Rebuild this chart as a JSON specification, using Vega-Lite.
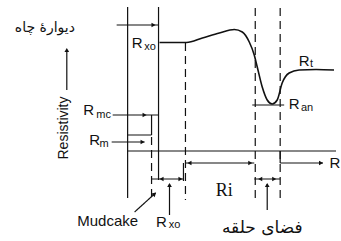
{
  "$schema": "https://vega.github.io/schema/vega-lite/v6.json",
  "width": 341,
  "height": 241,
  "autosize": {"type": "fit", "contains": "padding"},
  "padding": 0,
  "background": "white",
  "config": {"view": {"stroke": null}},
  "datasets": {
    "segs": [
      {"x": 128, "y": 7, "x2": 128, "y2": 198, "kind": "solid"},
      {"x": 159, "y": 7, "x2": 159, "y2": 180, "kind": "solid"},
      {"x": 117, "y": 25, "x2": 159, "y2": 25, "kind": "solid"},
      {"x": 113, "y": 115, "x2": 159, "y2": 115, "kind": "solid"},
      {"x": 152, "y": 115, "x2": 152, "y2": 135, "kind": "solid"},
      {"x": 128, "y": 135, "x2": 152, "y2": 135, "kind": "solid"},
      {"x": 112, "y": 142, "x2": 145, "y2": 142, "kind": "solid"},
      {"x": 128, "y": 151, "x2": 337, "y2": 151, "kind": "solid"},
      {"x": 281, "y": 151, "x2": 281, "y2": 163, "kind": "solid"},
      {"x": 281, "y": 163, "x2": 324, "y2": 163, "kind": "solid"},
      {"x": 186, "y": 163, "x2": 255, "y2": 163, "kind": "solid"},
      {"x": 152, "y": 179, "x2": 184, "y2": 179, "kind": "solid"},
      {"x": 184, "y": 163, "x2": 184, "y2": 181, "kind": "solid"},
      {"x": 255, "y": 179, "x2": 281, "y2": 179, "kind": "solid"},
      {"x": 253, "y": 105, "x2": 285, "y2": 105, "kind": "solid"},
      {"x": 67, "y": 50, "x2": 67, "y2": 90, "kind": "solid"},
      {"x": 268, "y": 184, "x2": 268, "y2": 210, "kind": "solid"},
      {"x": 170, "y": 184, "x2": 170, "y2": 215, "kind": "solid"},
      {"x": 135, "y": 212, "x2": 156, "y2": 193, "kind": "solid"},
      {"x": 152, "y": 137, "x2": 152, "y2": 200, "kind": "dashed"},
      {"x": 186, "y": 43, "x2": 186, "y2": 200, "kind": "dashed"},
      {"x": 256, "y": 8, "x2": 256, "y2": 200, "kind": "dashed"},
      {"x": 281, "y": 8, "x2": 281, "y2": 200, "kind": "dashed"}
    ],
    "curve": [
      {"x": 160, "y": 42.5},
      {"x": 175, "y": 42.5},
      {"x": 187, "y": 42.5},
      {"x": 203, "y": 38},
      {"x": 220, "y": 33},
      {"x": 235, "y": 29.5},
      {"x": 243, "y": 32},
      {"x": 250, "y": 42},
      {"x": 255, "y": 55},
      {"x": 258, "y": 67},
      {"x": 263, "y": 87},
      {"x": 268, "y": 100},
      {"x": 273, "y": 104},
      {"x": 278, "y": 100},
      {"x": 283, "y": 83},
      {"x": 290, "y": 73},
      {"x": 300, "y": 70},
      {"x": 317, "y": 69.5},
      {"x": 335, "y": 70}
    ],
    "heads": [
      {"x": 154, "y": 25, "dir": "r"},
      {"x": 145, "y": 115, "dir": "r"},
      {"x": 143, "y": 142, "dir": "r"},
      {"x": 162, "y": 179, "dir": "l"},
      {"x": 181, "y": 179, "dir": "r"},
      {"x": 190, "y": 163, "dir": "l"},
      {"x": 251, "y": 163, "dir": "r"},
      {"x": 322, "y": 163, "dir": "r"},
      {"x": 261, "y": 179, "dir": "l"},
      {"x": 275, "y": 179, "dir": "r"},
      {"x": 67, "y": 50, "dir": "u"},
      {"x": 268, "y": 185, "dir": "u"},
      {"x": 170, "y": 185, "dir": "u"}
    ],
    "diag": [{"x": 155, "y": 194}],
    "bigR": [
      {"x": 137.5, "y": 43, "t": "R"},
      {"x": 89, "y": 110, "t": "R"},
      {"x": 95, "y": 140, "t": "R"},
      {"x": 162, "y": 222, "t": "R"},
      {"x": 305, "y": 61, "t": "R"},
      {"x": 295, "y": 104, "t": "R"},
      {"x": 336, "y": 163, "t": "R"}
    ],
    "subs": [
      {"x": 150.5, "y": 46.5, "t": "xo"},
      {"x": 104, "y": 115, "t": "mc"},
      {"x": 104.5, "y": 144, "t": "m"},
      {"x": 175, "y": 225, "t": "xo"},
      {"x": 312.5, "y": 64, "t": "t"},
      {"x": 308, "y": 107.5, "t": "an"}
    ],
    "arabic1": [{"x": 45, "y": 28, "t": "دیوارهٔ چاه"}],
    "arabic2": [{"x": 263, "y": 228, "t": "فضای حلقه"}],
    "mud": [{"x": 108, "y": 221, "t": "Mudcake"}],
    "ri": [{"x": 225, "y": 191, "t": "Ri"}],
    "res": [{"x": 64, "y": 128, "t": "Resistivity"}]
  },
  "encoding": {
    "x": {"field": "x", "type": "quantitative", "scale": {"domain": [0, 341], "nice": false, "zero": false}, "axis": null},
    "y": {"field": "y", "type": "quantitative", "scale": {"domain": [241, 0], "nice": false, "zero": false}, "axis": null}
  },
  "layer": [
    {
      "data": {"name": "segs"},
      "mark": {"type": "rule", "color": "#111", "strokeWidth": 1.2},
      "encoding": {
        "x2": {"field": "x2"},
        "y2": {"field": "y2"},
        "strokeDash": {"field": "kind", "type": "nominal", "scale": {"domain": ["solid", "dashed"], "range": [[1, 0], [8, 5]]}, "legend": null}
      }
    },
    {
      "data": {"name": "curve"},
      "mark": {"type": "line", "color": "#111", "strokeWidth": 1.6, "interpolate": "monotone"},
      "encoding": {"order": {"field": "x", "type": "quantitative"}}
    },
    {
      "data": {"name": "heads"},
      "mark": {"type": "point", "filled": true, "color": "#111", "size": 22, "opacity": 1},
      "encoding": {
        "shape": {"field": "dir", "type": "nominal", "scale": {"domain": ["r", "l", "u"], "range": ["triangle-right", "triangle-left", "triangle-up"]}, "legend": null}
      }
    },
    {
      "data": {"name": "diag"},
      "mark": {"type": "point", "filled": true, "color": "#111", "size": 24, "opacity": 1, "shape": "triangle-up", "angle": 48},
      "encoding": {}
    },
    {
      "data": {"name": "bigR"},
      "mark": {"type": "text", "font": "Liberation Sans", "fontSize": 15, "color": "#111", "align": "center", "baseline": "middle"},
      "encoding": {"text": {"field": "t"}}
    },
    {
      "data": {"name": "subs"},
      "mark": {"type": "text", "font": "Liberation Sans", "fontSize": 11, "color": "#111", "align": "center", "baseline": "middle"},
      "encoding": {"text": {"field": "t"}}
    },
    {
      "data": {"name": "arabic1"},
      "mark": {"type": "text", "font": "DejaVu Sans", "fontSize": 14, "color": "#111", "align": "center", "baseline": "middle"},
      "encoding": {"text": {"field": "t"}}
    },
    {
      "data": {"name": "arabic2"},
      "mark": {"type": "text", "font": "DejaVu Sans", "fontSize": 17, "color": "#111", "align": "center", "baseline": "middle"},
      "encoding": {"text": {"field": "t"}}
    },
    {
      "data": {"name": "mud"},
      "mark": {"type": "text", "font": "Liberation Sans", "fontSize": 15, "color": "#111", "align": "center", "baseline": "middle"},
      "encoding": {"text": {"field": "t"}}
    },
    {
      "data": {"name": "ri"},
      "mark": {"type": "text", "font": "Liberation Serif", "fontSize": 18, "color": "#111", "align": "center", "baseline": "middle"},
      "encoding": {"text": {"field": "t"}}
    },
    {
      "data": {"name": "res"},
      "mark": {"type": "text", "font": "Liberation Sans", "fontSize": 14, "color": "#111", "align": "center", "baseline": "middle", "angle": 270},
      "encoding": {"text": {"field": "t"}}
    }
  ]
}
